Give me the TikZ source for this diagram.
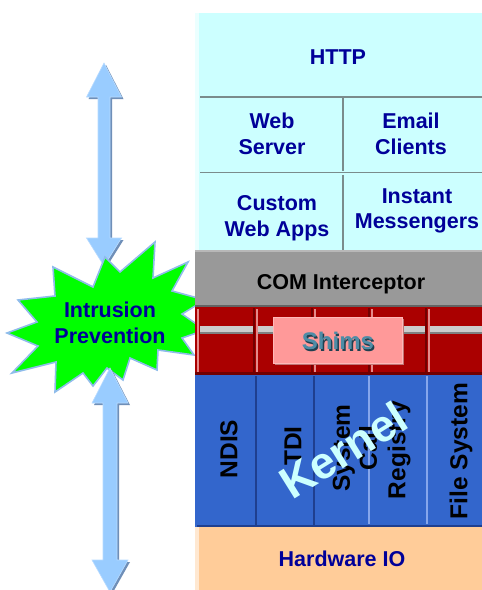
\documentclass[tikz,border=0pt]{standalone}
\usepackage{fontspec}
\setmainfont{Liberation Sans}
\definecolor{navytext}{HTML}{000099}
\definecolor{cyanbg}{HTML}{CCFFFF}
\definecolor{gridgrey}{HTML}{7A8C8C}
\definecolor{comgrey}{HTML}{999999}
\definecolor{redband}{HTML}{AA0000}
\definecolor{darkred}{HTML}{720000}
\definecolor{pinkline}{HTML}{E58A8A}
\definecolor{shimfill}{HTML}{FF9999}
\definecolor{shimtext}{HTML}{4E8CA6}
\definecolor{shimshadow}{HTML}{1F4050}
\definecolor{kernelblue}{HTML}{3366CC}
\definecolor{kerneldark}{HTML}{1F3F8F}
\definecolor{kernellight}{HTML}{86A6EC}
\definecolor{hwfill}{HTML}{FFCC99}
\definecolor{arrowfill}{HTML}{99CCFF}
\definecolor{arrowshade}{HTML}{6F8FB8}
\definecolor{starfill}{HTML}{00FF00}
\definecolor{staredge}{HTML}{8FBCEB}
\tikzset{
  lbl/.style={font=\fontsize{21.5}{25.5}\selectfont\bfseries, text=navytext, align=center, inner sep=0pt},
  comlbl/.style={font=\fontsize{21.5}{25.5}\selectfont\bfseries, text=black, inner sep=0pt},
  coltext/.style={font=\fontsize{24.5}{27}\selectfont\bfseries, text=black, rotate=90, align=center, inner sep=0pt},
  divider/.style={draw=gridgrey, line width=1.6pt},
}
% vertical double-headed block arrow: centre x, top tip, top head base, bottom head base, bottom tip, shaft half width, head half width
\newcommand\blockarrowV[7]{%
  \fill[arrowshade] ({#1+2},{#2+2}) -- ({#1+#7+2},{#3+2}) -- ({#1+#6+2},{#3+2}) -- ({#1+#6+2},{#4+2})
     -- ({#1+#7+2},{#4+2}) -- ({#1+2},{#5+2}) -- ({#1-#7+2},{#4+2}) -- ({#1-#6+2},{#4+2})
     -- ({#1-#6+2},{#3+2}) -- ({#1-#7+2},{#3+2}) -- cycle;
  \filldraw[fill=arrowfill, draw=arrowfill!70!white, line width=0.6pt]
     (#1,#2) -- ({#1+#7},#3) -- ({#1+#6},#3) -- ({#1+#6},#4)
     -- ({#1+#7},#4) -- (#1,#5) -- ({#1-#7},#4) -- ({#1-#6},#4)
     -- ({#1-#6},#3) -- ({#1-#7},#3) -- cycle;
}
\begin{document}
\begin{tikzpicture}[x=1pt,y=-1pt]
\useasboundingbox (0,0) rectangle (482,590);
\fill[white] (0,0) rectangle (482,590);

% upper arrow (its lower head disappears under the star)
\blockarrowV{104}{63}{97}{238}{266}{6}{17.5}

% the starburst
\filldraw[fill=starfill, draw=staredge, line width=1.6pt, line join=miter]
  (105,257) -- (120,272) -- (155,242) -- (153,278) -- (188,262) -- (172,291)
  -- (205,300) -- (182,314) -- (205,330) -- (182,338) -- (194,355) -- (158,350)
  -- (157,370) -- (130,358) -- (123,380) -- (107,368) -- (93,386) -- (83,373)
  -- (55,392) -- (56,362) -- (12,373) -- (38,346) -- (7,333) -- (37,322)
  -- (18,300) -- (55,296) -- (53,267) -- (93,287) -- cycle;
\node[lbl] (ips) at (110,323) {Intrusion\\Prevention};

% lower arrow
\blockarrowV{110}{368}{403}{560}{592}{7}{18}

% ---------------- application layer ----------------
\fill[cyanbg] (197,13) rectangle (482,250);
\fill[white!60!cyanbg] (195,13) rectangle (199,250);
\draw[divider] (200,97) -- (482,97);
\draw[divider] (200,172.5) -- (482,172.5);
\draw[divider] (343,97) -- (343,171);
\draw[divider] (343,175) -- (343,250);
\node[lbl] (http) at (338,57) {HTTP};
\node[lbl] (websrv) at (272,134) {Web\\Server};
\node[lbl] (email) at (411,134) {Email\\Clients};
\node[lbl] (custom) at (277,218) {Custom\\Web Apps};
\node[lbl] (im) at (417,211) {Instant\\Messengers};

% ---------------- COM interceptor ----------------
\fill[comgrey] (195,250) rectangle (482,307);
\draw[comgrey!70!white, line width=1.2pt] (195,251) -- (482,251);
\draw[comgrey!65!black, line width=2pt] (195,306) -- (482,306);
\node[comlbl] (com) at (341,284) {COM Interceptor};

% ---------------- shim band ----------------
\fill[redband] (195,307) rectangle (482,375);
\draw[darkred, line width=2.2pt] (195,373.5) -- (482,373.5);
\draw[pinkline, line width=1.2pt] (198,309) -- (198,372);
\foreach \sx in {255,313,370,427}{
  \draw[darkred, line width=2pt] (\sx-1,308) -- (\sx-1,372);
  \draw[pinkline, line width=1.2pt] (\sx+2,309) -- (\sx+2,372);
}
\foreach \ax/\bx in {200/253, 258/311, 316/368, 373/425, 430/482}{
  \fill[black!20] (\ax,326) rectangle (\bx,333);
  \draw[black!50, line width=1.2pt] (\ax,333) -- (\bx,333);
}
\fill[shimfill!75!black] (275,319) rectangle (404,365);
\filldraw[fill=shimfill, draw=shimfill!70!white, line width=1pt] (273,317) rectangle (402,363);
\node[font=\fontsize{24}{28}\selectfont\bfseries, text=shimshadow, inner sep=0pt] at (339.5,342.5) {Shims};
\node[font=\fontsize{24}{28}\selectfont\bfseries, text=shimtext, inner sep=0pt] (shims) at (338,341) {Shims};

% ---------------- kernel ----------------
\fill[kernelblue] (195,375) rectangle (482,527);
\draw[kerneldark, line width=2pt] (197,526) -- (482,526);
\draw[kerneldark, line width=2pt] (256,376) -- (256,526);
\draw[kerneldark, line width=2pt] (314,376) -- (314,526);
\draw[kernellight, line width=1.5pt] (369,376) -- (369,524);
\draw[kernellight, line width=1.5pt] (427,376) -- (427,524);
\node[coltext] (ndis) at (229,449) {NDIS};
\node[coltext] (tdi) at (293,446) {TDI};
\node[coltext] (syscall) at (355,448) {System\\Call};
\node[coltext] (registry) at (399,450) {Registry};
\node[coltext] (filesys) at (461,451) {File System};
\node[font=\fontsize{45}{47}\selectfont\bfseries, text=cyanbg, rotate=32, inner sep=0pt] (kernel) at (343,450) {Kernel};

% ---------------- hardware ----------------
\fill[hwfill] (197,527) rectangle (482,590);
\fill[white!55!hwfill] (195,527) rectangle (199,590);
\node[lbl] (hwio) at (342,559) {Hardware IO};
\end{tikzpicture}
\end{document}
